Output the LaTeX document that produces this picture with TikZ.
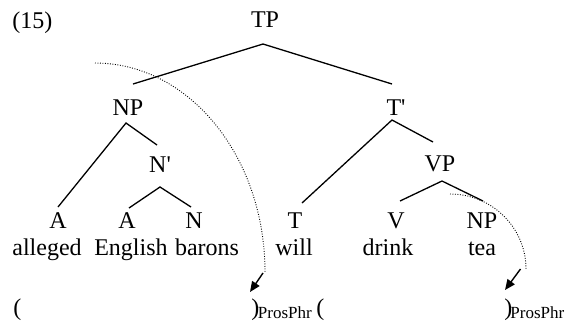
\documentclass[tikz,border=0pt]{standalone}
\usepackage{fontspec}
\setmainfont[Ligatures=TeXOff]{Liberation Serif}
\usetikzlibrary{arrows.meta}
\begin{document}
\begin{tikzpicture}[x=0.5pt,y=-0.5pt,
  lbl/.style={inner sep=0pt, anchor=base, font=\fontsize{12}{14}\selectfont},
  lft/.style={inner sep=0pt, anchor=base west, font=\fontsize{12}{14}\selectfont},
  sub/.style={inner sep=0pt, anchor=base west, font=\fontsize{8.5}{10}\selectfont},
  br/.style={line width=0.65pt},
  dots/.style={line width=0.45pt, dash pattern=on 0.45pt off 0.8pt},
  arr/.style={line width=0.7pt, -{Triangle[length=5.2pt,width=4.4pt]}}]
\useasboundingbox (0,0) rectangle (567,323);
% labels
\node[lft] (ex) at (12,28) {(15)};
\node[lbl] (TP) at (265,27) {TP};
\node[lbl] (NP) at (128,115) {NP};
\node[lbl] (Tbar) at (396,115) {T'};
\node[lbl] (Nbar) at (160,172) {N'};
\node[lbl] (VP) at (440,171) {VP};
\node[lbl] (A1) at (58,228) {A};
\node[lbl] (A2) at (127,228) {A};
\node[lbl] (N) at (194,228) {N};
\node[lbl] (T) at (295,228) {T};
\node[lbl] (V) at (396,228) {V};
\node[lbl] (NPb) at (482,228) {NP};
\node[lbl] (w1) at (47,255) {alleged};
\node[lbl] (w2) at (131,255) {English};
\node[lbl] (w3) at (207,255) {barons};
\node[lbl] (w4) at (294,255) {will};
\node[lbl] (w5) at (388,255) {drink};
\node[lbl] (w6) at (482,255) {tea};
% prosodic brackets
\node[lft] (lp1) at (13,315) {(};
\node[lft] (rp1) at (251,315) {)};
\node[sub] (s1) at (257.5,318) {ProsPhr};
\node[lft] (lp2) at (316,315) {(};
\node[lft] (rp2) at (504,315) {)};
\node[sub] (s2) at (510,318) {ProsPhr};
% tree branches
\draw[br] ([shift={(5,-31)}]NP.base) -- ([shift={(-2,17)}]TP.base) -- ([shift={(-4,-31)}]Tbar.base);
\draw[br] ([shift={(0,-21)}]A1.base) -- ([shift={(-2,8)}]NP.base) -- ([shift={(-3,-27)}]Nbar.base);
\draw[br] ([shift={(2,-20)}]A2.base) -- ([shift={(0,15)}]Nbar.base) -- ([shift={(-3,-21)}]N.base);
\draw[br] ([shift={(7,-25)}]T.base) -- ([shift={(-4,5)}]Tbar.base) -- ([shift={(-7,-29)}]VP.base);
\draw[br] ([shift={(4,-27)}]V.base) -- ([shift={(2,10)}]VP.base) -- ([shift={(1,-27)}]NPb.base);
% dotted curves and arrows
\coordinate (c1s) at (95,63);
\coordinate (c1e) at (265,272);
\coordinate (c2s) at (450,194);
\coordinate (c2e) at (526,269);
\draw[dots] (c1s) .. controls (189,63) and (265,156.6) .. (c1e);
\draw[arr] (263,273) -- ([shift={(-1,-23)}]rp1.base west);
\draw[dots] (c2s) .. controls (492,194) and (526,227.6) .. (c2e);
\draw[arr] (520.5,269) -- ([shift={(1,-25)}]rp2.base west);
\end{tikzpicture}
\end{document}
